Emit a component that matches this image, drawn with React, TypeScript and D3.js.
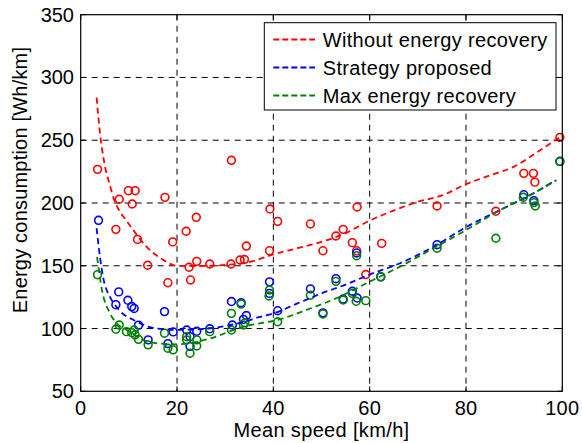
import React from "react";
import * as d3 from "d3";

// ---------- data ----------
const redX = [3.5, 31.3, 8.0, 9.9, 11.3, 10.7, 7.3, 11.8, 13.9, 17.5, 18.1, 19.1, 21.9, 24.0, 22.5, 22.8, 24.1, 26.8, 31.2, 33.1, 34.0, 34.4, 39.3, 40.9, 47.7, 39.2, 50.3, 53.0, 54.5, 56.4, 57.4, 57.3, 59.2, 62.5, 74.0, 86.2, 92.0, 94.0, 94.3, 99.5];
const redY = [226.8, 234, 203, 209.8, 209.8, 199.2, 179, 171, 150.4, 204.5, 136.5, 169, 177.5, 188.6, 148.8, 138.7, 153.5, 151.4, 151.4, 154.6, 155, 165.7, 195.2, 185.4, 183.3, 162, 162, 173.7, 179, 168.4, 196.8, 162, 143, 167.8, 197.6, 193.4, 223.6, 223.6, 216.6, 252.3];

const blueX = [3.7, 7.9, 7.3, 9.8, 10.6, 11.1, 12.0, 14.0, 17.4, 18.1, 19.2, 22.0, 22.7, 22.7, 24.1, 26.8, 31.3, 31.5, 33.3, 34.4, 33.8, 39.2, 39.2, 40.9, 47.7, 50.3, 53.0, 54.5, 56.4, 57.4, 57.3, 62.3, 74.0, 92.0, 94.1, 99.5];
const blueY = [186.2, 129.2, 119, 122.5, 117.5, 116, 102.7, 91, 113.5, 88, 97.3, 98.8, 93.5, 85.8, 97.8, 99.8, 121.5, 102.8, 120.6, 110.4, 107.3, 137.2, 128, 114.2, 131.6, 112.5, 139.7, 123.5, 129.7, 124.3, 160.2, 141.2, 166.8, 206.6, 201.9, 233.2];

const greenX = [3.5, 8.0, 7.3, 9.5, 10.6, 11.1, 11.3, 12.0, 14.0, 17.4, 18.1, 19.2, 22.0, 22.0, 24.1, 24.1, 22.7, 26.8, 31.3, 31.3, 33.3, 33.8, 34.1, 39.2, 39.1, 40.9, 47.7, 50.3, 53.0, 54.5, 56.4, 57.2, 57.3, 59.2, 62.3, 74.0, 86.2, 91.9, 94.1, 94.4, 99.5];
const greenY = [142.9, 102.8, 99.4, 97.5, 96.7, 98.8, 95, 91.4, 87, 96.3, 84.3, 83, 93.5, 91, 91, 86.1, 80.3, 97.5, 112.1, 98.8, 119.5, 102.8, 104.6, 130.7, 125.9, 105.4, 126.5, 111.6, 137.6, 122.7, 128, 121.7, 158, 122.2, 141.3, 164, 171.9, 204.6, 200.3, 197.6, 233];

// fitted curves
const redFitX = [3.3, 4.0, 5.0, 6.0, 7.0, 8.0, 9.5, 11, 13.7, 17, 20, 24.5, 30, 35, 40, 45, 50, 55, 60, 65, 70, 75, 80, 85, 90, 95, 99.5];
const redFitY = [284, 256, 230, 215, 202, 194, 186, 178, 165, 155, 150, 149.8, 150.6, 153, 159, 164, 169, 176, 186, 194, 201, 206, 215, 222, 229, 241, 252.5];

const blueFitX = [3.3, 4.0, 4.7, 6.1, 7.5, 9, 10.9, 13, 15, 20, 25, 30, 34, 37, 40, 45, 50, 55, 60, 66.3, 73.2, 80.1, 87.1, 94, 98.5];
const blueFitY = [180, 157, 140, 125, 117, 111, 107, 103, 100.5, 99, 99.5, 102, 105.5, 109, 112, 120, 128, 135, 143, 152, 165, 181, 194.4, 207.7, 218];

const greenFitX = [3.4, 4.4, 6.1, 7.5, 9.5, 13, 16.5, 20, 26.8, 33.8, 37.2, 40, 46.9, 53.8, 60.7, 66.3, 73.2, 80.1, 87.1, 94, 98.8];
const greenFitY = [157, 131, 112, 104, 99, 91, 88, 87.4, 92, 101.5, 104.2, 106, 114.8, 125.4, 138.7, 149.3, 163.9, 178.6, 194.4, 207.7, 218.2];

const xTicks = [0, 20, 40, 60, 80, 100];
const yTicks = [50, 100, 150, 200, 250, 300, 350];
const legendLabels = ["Without energy recovery", "Strategy proposed", "Max energy recovery"];
const colors = ["#ff0000", "#0000ff", "#008000"];

// ---------- layout ----------
const W = 582, H = 443;
const L = 80.7, R = 562.3, T = 14.7, B = 391.3;
const FONT = "'Liberation Sans', Arial, sans-serif";
const FS = 20;
const LS = 0.35;

export default function App() {
  const x = d3.scaleLinear().domain([0, 100]).range([L, R]);
  const y = d3.scaleLinear().domain([50, 350]).range([B, T]);
  const line = d3.line<[number, number]>().x(d => x(d[0])).y(d => y(d[1])).curve(d3.curveMonotoneX);

  const pts = [
    { xs: redX, ys: redY },
    { xs: blueX, ys: blueY },
    { xs: greenX, ys: greenY },
  ];
  const fits = [
    { xs: redFitX, ys: redFitY },
    { xs: blueFitX, ys: blueFitY },
    { xs: greenFitX, ys: greenFitY },
  ];

  return (
    <svg width={W} height={H} style={{ position: "absolute", left: 0, top: 0, background: "#fff" }} fontFamily={FONT}>
      <rect x={0} y={0} width={W} height={H} fill="#fff" />
      {/* grid */}
      {xTicks.slice(1, -1).map(t => (
        <line key={"gx" + t} x1={x(t)} x2={x(t)} y1={T} y2={B} stroke="#000" strokeWidth={1} strokeDasharray="6,5" />
      ))}
      {yTicks.slice(1, -1).map(t => (
        <line key={"gy" + t} x1={L} x2={R} y1={y(t)} y2={y(t)} stroke="#000" strokeWidth={1} strokeDasharray="6,5" />
      ))}
      {/* points */}
      {pts.map((s, i) => (
        <g key={"p" + i}>
          {s.xs.map((v, j) => (
            <circle key={j} cx={x(v)} cy={y(s.ys[j])} r={3.9} fill="none" stroke={colors[i]} strokeWidth={1.6} />
          ))}
        </g>
      ))}
      {/* fit lines */}
      {fits.map((s, i) => (
        <path key={"f" + i} d={line(s.xs.map((v, j) => [v, s.ys[j]] as [number, number])) || ""} fill="none" stroke={colors[i]} strokeWidth={1.8} strokeDasharray="6,4" />
      ))}
      {/* box */}
      <rect x={L} y={T} width={R - L} height={B - T} fill="none" stroke="#000" strokeWidth={1.2} />
      {/* ticks */}
      {xTicks.map(t => (
        <g key={"tx" + t}>
          <line x1={x(t)} x2={x(t)} y1={B} y2={B - 5} stroke="#000" />
          <line x1={x(t)} x2={x(t)} y1={T} y2={T + 5} stroke="#000" />
          <text x={x(t)} y={414.5} textAnchor="middle" fontSize={FS} letterSpacing={0.2} fill="#000">{t}</text>
        </g>
      ))}
      {yTicks.map(t => (
        <g key={"ty" + t}>
          <line x1={L} x2={L + 5} y1={y(t)} y2={y(t)} stroke="#000" />
          <line x1={R} x2={R - 5} y1={y(t)} y2={y(t)} stroke="#000" />
          <text x={74} y={y(t)} dy="0.35em" textAnchor="end" fontSize={FS} fill="#000">{t}</text>
        </g>
      ))}
      {/* axis labels */}
      <text x={(L + R) / 2} y={437} textAnchor="middle" fontSize={FS} letterSpacing={LS} fill="#000">Mean speed [km/h]</text>
      <text transform={`translate(27,180) rotate(-90)`} textAnchor="middle" fontSize={FS} letterSpacing={0.2} fill="#000">Energy consumption [Wh/km]</text>
      {/* legend */}
      <rect x={264.3} y={22.7} width={291.7} height={87.3} fill="#fff" stroke="#000" strokeWidth={1} />
      {legendLabels.map((lab, i) => {
        const cy = 39.5 + i * 28;
        return (
          <g key={"lg" + i}>
            <line x1={273.3} x2={315} y1={cy} y2={cy} stroke={colors[i]} strokeWidth={1.8} strokeDasharray="6,3" />
            <text x={322.7} y={cy} dy="0.35em" fontSize={FS} letterSpacing={LS} fill="#000">{lab}</text>
          </g>
        );
      })}
    </svg>
  );
}
